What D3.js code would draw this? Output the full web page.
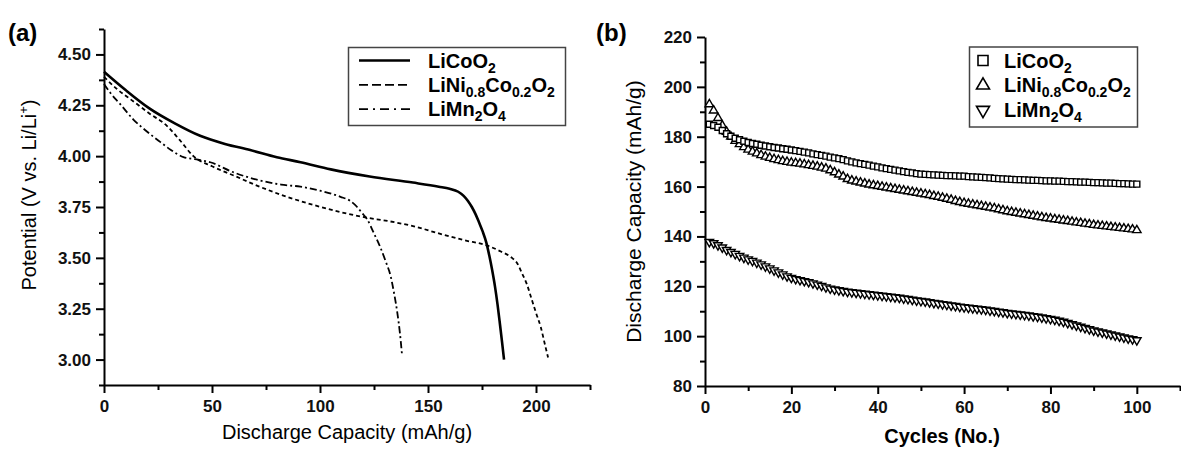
<!DOCTYPE html>
<html>
<head>
<meta charset="utf-8">
<script src="https://cdn.jsdelivr.net/npm/d3@7"></script>
<style>
  html, body { margin: 0; padding: 0; background: #fff; }
  svg { display: block; font-family: "Liberation Sans", Arial, sans-serif; }
</style>
</head>
<body>
<svg id="chart" width="1181" height="454"></svg>
<script>
// ---------------- DATA: panel (a) discharge curves ----------------
const capLiCoO2 = [0, 10, 21, 33, 44.5, 56, 67.7, 80, 91, 105, 123, 143, 155, 160, 164, 166.5, 168.5, 170.3, 172, 173.6, 175.3, 177, 178.4, 179.7, 181, 182.2, 183.3, 184.3, 185.2];
const potLiCoO2 = [4.415, 4.325, 4.235, 4.16, 4.10, 4.06, 4.03, 3.995, 3.97, 3.935, 3.90, 3.87, 3.85, 3.84, 3.825, 3.805, 3.78, 3.75, 3.715, 3.675, 3.63, 3.575, 3.51, 3.44, 3.36, 3.27, 3.175, 3.085, 3.00];

const capLiNiCo = [0, 6, 13.5, 21, 29, 35, 41.4, 50, 60, 72, 84.7, 97, 109.5, 120.3, 132, 143.5, 155, 166.7, 177.5, 184, 188.3, 191.5, 193.7, 195.8, 197.6, 200, 202.2, 204, 205.6];
const potLiNiCo = [4.39, 4.33, 4.27, 4.21, 4.15, 4.08, 4.00, 3.95, 3.905, 3.85, 3.80, 3.76, 3.725, 3.70, 3.68, 3.655, 3.62, 3.587, 3.56, 3.53, 3.505, 3.47, 3.42, 3.37, 3.31, 3.23, 3.16, 3.08, 3.01];

const capLiMn2O4 = [0, 3, 7.4, 13.6, 20, 26, 31, 36.8, 42, 49.2, 60, 72.4, 82, 90.9, 100, 109.5, 114, 117.2, 119.5, 121.8, 125, 128, 130.5, 132.7, 134.4, 135.8, 137, 138];
const potLiMn2O4 = [4.355, 4.31, 4.257, 4.18, 4.12, 4.07, 4.03, 3.995, 3.985, 3.97, 3.92, 3.88, 3.86, 3.85, 3.83, 3.80, 3.78, 3.75, 3.72, 3.69, 3.62, 3.55, 3.48, 3.41, 3.32, 3.23, 3.13, 3.02];

// ---------------- DATA: panel (b) cycling ----------------
const cycles = d3.range(1, 101);
const cycLiCoO2 = [185.0, 184.5, 183.8, 182.5, 181.2, 180.2, 179.4, 178.8, 178.2, 177.7,
  177.3, 177.0, 176.6, 176.3, 176.0, 175.7, 175.5, 175.2, 175.0, 174.7,
  174.4, 174.1, 173.8, 173.5, 173.1, 172.8, 172.5, 172.2, 171.8, 171.5,
  171.2, 170.8, 170.3, 169.9, 169.5, 169.2, 168.9, 168.6, 168.2, 167.9,
  167.5, 167.2, 166.9, 166.6, 166.3, 166.0, 165.7, 165.5, 165.2, 165.0,
  164.9, 164.8, 164.7, 164.6, 164.5, 164.4, 164.4, 164.3, 164.2, 164.2,
  164.0, 163.9, 163.8, 163.7, 163.6, 163.5, 163.3, 163.2, 163.1, 163.0,
  162.9, 162.8, 162.8, 162.7, 162.6, 162.5, 162.5, 162.4, 162.3, 162.3,
  162.2, 162.2, 162.1, 162.0, 162.0, 161.9, 161.8, 161.8, 161.7, 161.6,
  161.6, 161.5, 161.4, 161.4, 161.3, 161.2, 161.2, 161.1, 161.0, 161.0];
const cycLiNiCo = [193.0, 190.5, 187.5, 184.5, 182.0, 180.0, 178.3, 177.0, 175.8, 174.8,
  174.0, 173.3, 172.6, 172.0, 171.5, 171.0, 170.6, 170.2, 169.9, 169.6,
  169.4, 169.2, 168.9, 168.6, 168.3, 168.0, 167.6, 167.2, 166.5, 165.7,
  164.8, 164.0, 163.0, 162.4, 162.0, 161.6, 161.2, 160.8, 160.5, 160.2,
  159.9, 159.6, 159.3, 159.0, 158.7, 158.4, 158.1, 157.8, 157.5, 157.2,
  156.9, 156.6, 156.2, 155.9, 155.5, 155.1, 154.7, 154.2, 153.8, 153.4,
  153.1, 152.8, 152.5, 152.2, 151.9, 151.6, 151.3, 150.9, 150.5, 150.1,
  149.8, 149.5, 149.2, 148.9, 148.6, 148.3, 148.0, 147.7, 147.4, 147.2,
  146.9, 146.7, 146.4, 146.2, 145.9, 145.6, 145.4, 145.1, 144.9, 144.6,
  144.4, 144.2, 144.0, 143.8, 143.6, 143.4, 143.2, 143.0, 142.8, 142.5];
const cycLiMn2O4 = [137.8, 137.3, 136.5, 135.6, 134.6, 133.8, 133.0, 132.2, 131.5, 130.8,
  130.2, 129.5, 128.8, 128.0, 127.2, 126.4, 125.6, 124.8, 124.0, 123.4,
  122.9, 122.5, 122.1, 121.7, 121.2, 120.7, 120.2, 119.6, 119.1, 118.7,
  118.4, 118.1, 117.8, 117.6, 117.4, 117.2, 117.0, 116.8, 116.6, 116.4,
  116.2, 116.0, 115.8, 115.6, 115.4, 115.1, 114.9, 114.6, 114.3, 114.1,
  113.9, 113.6, 113.3, 113.1, 112.8, 112.6, 112.3, 112.1, 111.8, 111.6,
  111.4, 111.2, 111.0, 110.8, 110.6, 110.3, 110.1, 109.8, 109.6, 109.3,
  109.1, 108.9, 108.7, 108.5, 108.3, 108.0, 107.8, 107.5, 107.2, 106.9,
  106.6, 106.2, 105.8, 105.3, 104.8, 104.3, 103.8, 103.3, 102.8, 102.3,
  101.9, 101.5, 101.1, 100.7, 100.3, 99.9, 99.5, 99.1, 98.8, 98.4];

// ---------------- TICKS ----------------
const aYMajor = [3.00, 3.25, 3.50, 3.75, 4.00, 4.25, 4.50];
const aYMinor = [2.875, 3.125, 3.375, 3.625, 3.875, 4.125, 4.375, 4.625];
const aXMajor = [0, 50, 100, 150, 200];
const aXMinor = [25, 75, 125, 175, 225];
const bYMajor = [80, 100, 120, 140, 160, 180, 200, 220];
const bYMinor = [90, 110, 130, 150, 170, 190, 210];
const bXMajor = [0, 20, 40, 60, 80, 100];
const bXMinor = [10, 30, 50, 70, 90, 110];

const svg = d3.select("#chart");
svg.append("rect").attr("width", 1181).attr("height", 454).attr("fill", "#fff");

const FONT_TICK = 17;

function styleAxis(g) {
  g.select(".domain").attr("stroke", "#000").attr("stroke-width", 2);
  g.selectAll(".tick line").attr("stroke", "#000").attr("stroke-width", 2);
  g.selectAll(".tick text").attr("font-size", FONT_TICK).attr("font-weight", "bold").attr("fill", "#111")
    .attr("font-family", '"Liberation Sans", Arial, sans-serif');
}

function drawAxes(xs, ys, xMaj, xMin, yMaj, yMin, yFmt) {
  const x0 = xs.range()[0], y0 = ys.range()[0];
  svg.append("g").attr("transform", `translate(0,${y0})`)
    .call(d3.axisBottom(xs).tickValues(xMin).tickSize(5).tickFormat(""))
    .call(g => { g.select(".domain").remove(); g.selectAll(".tick line").attr("stroke", "#000").attr("stroke-width", 2); g.selectAll(".tick text").remove(); });
  svg.append("g").attr("transform", `translate(${x0},0)`)
    .call(d3.axisLeft(ys).tickValues(yMin).tickSize(5).tickFormat(""))
    .call(g => { g.select(".domain").remove(); g.selectAll(".tick line").attr("stroke", "#000").attr("stroke-width", 2); g.selectAll(".tick text").remove(); });
  svg.append("g").attr("transform", `translate(0,${y0})`)
    .call(d3.axisBottom(xs).tickValues(xMaj).tickSize(8).tickSizeOuter(0).tickPadding(7).tickFormat(d3.format("d")))
    .call(styleAxis);
  svg.append("g").attr("transform", `translate(${x0},0)`)
    .call(d3.axisLeft(ys).tickValues(yMaj).tickSize(8).tickSizeOuter(0).tickPadding(5).tickFormat(yFmt))
    .call(styleAxis);
}

// ================= PANEL (a) =================
const xA = d3.scaleLinear().domain([0, 225]).range([104, 590]);
const yA = d3.scaleLinear().domain([2.875, 4.625]).range([385, 29]);
drawAxes(xA, yA, aXMajor, aXMinor, aYMajor, aYMinor, d3.format(".2f"));

const lineA = d3.line().x(d => xA(d[0])).y(d => yA(d[1])).curve(d3.curveMonotoneX);
const seriesA = [
  { cap: capLiNiCo, pot: potLiNiCo, w: 1.8, dash: "4,3" },
  { cap: capLiMn2O4, pot: potLiMn2O4, w: 1.8, dash: "7,3,2,3" },
  { cap: capLiCoO2, pot: potLiCoO2, w: 2.6, dash: null }
];
seriesA.forEach(s => {
  svg.append("path")
    .attr("d", lineA(s.cap.map((c, i) => [c, s.pot[i]])))
    .attr("fill", "none").attr("stroke", "#000").attr("stroke-width", s.w)
    .attr("stroke-dasharray", s.dash);
});

svg.append("text").attr("x", 8).attr("y", 41).attr("font-size", 24).attr("font-weight", "bold").text("(a)");

svg.append("text").attr("x", 347).attr("y", 439).attr("text-anchor", "middle").attr("font-size", 20)
  .text("Discharge Capacity (mAh/g)");
const yTitleA = svg.append("text").attr("transform", "translate(36,195) rotate(-90)")
  .attr("text-anchor", "middle").attr("font-size", 20);
yTitleA.append("tspan").text("Potential (V vs. Li/Li");
yTitleA.append("tspan").attr("font-size", 13).attr("dy", -8).text("+");
yTitleA.append("tspan").attr("dy", 8).text(")");

// chemical formula text with subscripts
function formula(textSel, parts) {
  let shifted = false;
  parts.forEach(p => {
    const ts = textSel.append("tspan").text(p.t);
    if (p.sub) {
      ts.attr("font-size", 14).attr("dy", shifted ? 0 : 5);
      shifted = true;
    } else {
      ts.attr("dy", shifted ? -5 : 0);
      shifted = false;
    }
  });
}
const legendNames = [
  [{ t: "LiCoO" }, { t: "2", sub: true }],
  [{ t: "LiNi" }, { t: "0.8", sub: true }, { t: "Co" }, { t: "0.2", sub: true }, { t: "O" }, { t: "2", sub: true }],
  [{ t: "LiMn" }, { t: "2", sub: true }, { t: "O" }, { t: "4", sub: true }]
];

// legend (a)
svg.append("rect").attr("x", 348.5).attr("y", 47.5).attr("width", 217).attr("height", 78)
  .attr("fill", "#fff").attr("stroke", "#444").attr("stroke-width", 1.5);
const legA = [{ w: 2.6, dash: null }, { w: 1.8, dash: "9,4" }, { w: 1.8, dash: "9,5,2,5" }];
legA.forEach((s, i) => {
  const y = 60.5 + i * 24.3;
  svg.append("line").attr("x1", 359).attr("x2", 410).attr("y1", y).attr("y2", y)
    .attr("stroke", "#000").attr("stroke-width", s.w).attr("stroke-dasharray", s.dash);
  const t = svg.append("text").attr("x", 428).attr("y", y + 7).attr("font-size", 20).attr("font-weight", "bold");
  formula(t, legendNames[i]);
});

// ================= PANEL (b) =================
const xB = d3.scaleLinear().domain([0, 110]).range([705, 1180]);
const yB = d3.scaleLinear().domain([80, 220]).range([386, 37]);
drawAxes(xB, yB, bXMajor, bXMinor, bYMajor, bYMinor, d3.format("d"));

function markerPath(type, s) {
  if (type === "square") {
    const h = s / 2;
    return `M${-h},${-h}H${h}V${h}H${-h}Z`;
  }
  const h = s * Math.sqrt(3) / 2;
  if (type === "up") return `M0,${-h * 2 / 3}L${s / 2},${h / 3}L${-s / 2},${h / 3}Z`;
  return `M0,${h * 2 / 3}L${s / 2},${-h / 3}L${-s / 2},${-h / 3}Z`;
}

const seriesB = [
  { vals: cycLiMn2O4, type: "down", size: 8.5 },
  { vals: cycLiNiCo, type: "up", size: 8.5 },
  { vals: cycLiCoO2, type: "square", size: 6 }
];
seriesB.forEach(s => {
  svg.append("g").selectAll("path").data(cycles.map((c, i) => [c, s.vals[i]])).join("path")
    .attr("transform", d => `translate(${xB(d[0])},${yB(d[1])})`)
    .attr("d", markerPath(s.type, s.size))
    .attr("fill", "#fff").attr("stroke", "#000").attr("stroke-width", 1.4);
});

svg.append("text").attr("x", 596).attr("y", 41).attr("font-size", 24).attr("font-weight", "bold").text("(b)");
svg.append("text").attr("x", 942).attr("y", 443).attr("text-anchor", "middle").attr("font-size", 20)
  .attr("font-weight", "bold").text("Cycles (No.)");
svg.append("text").attr("transform", "translate(641,211.5) rotate(-90)").attr("text-anchor", "middle")
  .attr("font-size", 21).text("Discharge Capacity (mAh/g)");

// legend (b)
svg.append("rect").attr("x", 969.5).attr("y", 47).attr("width", 168).attr("height", 80)
  .attr("fill", "#fff").attr("stroke", "#444").attr("stroke-width", 1.5);
const legB = [{ type: "square", size: 10 }, { type: "up", size: 13 }, { type: "down", size: 13 }];
legB.forEach((s, i) => {
  const y = 60.5 + i * 24.8;
  svg.append("path").attr("transform", `translate(983,${y})`).attr("d", markerPath(s.type, s.size))
    .attr("fill", "#fff").attr("stroke", "#000").attr("stroke-width", 1.6);
  const t = svg.append("text").attr("x", 1004).attr("y", y + 7).attr("font-size", 20).attr("font-weight", "bold");
  formula(t, legendNames[i]);
});
</script>
</body>
</html>
